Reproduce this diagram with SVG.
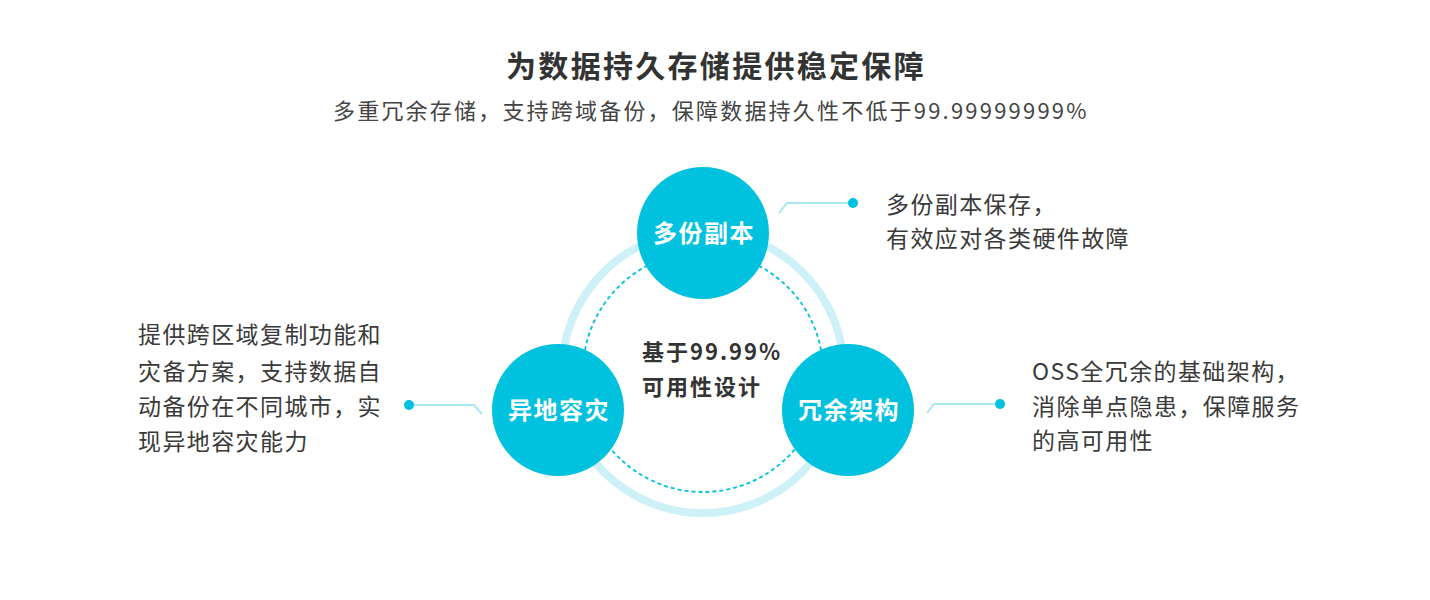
<svg xmlns="http://www.w3.org/2000/svg" width="1430" height="600" viewBox="0 0 1430 600">
<style>
text{font-family:"Noto Sans CJK SC","Noto Sans",sans-serif;}
.title{font-size:30px;font-weight:bold;fill:#333;letter-spacing:2.3px;}
.sub{font-size:22px;fill:#444;letter-spacing:2.2px;}
.desc{font-size:23px;fill:#3a3a3a;letter-spacing:1.4px;}
.node{fill:#00c1de;}
.ntext{font-size:24px;font-weight:bold;fill:#fff;letter-spacing:1.5px;text-anchor:middle;}
.ctext{font-size:22px;font-weight:bold;fill:#333;letter-spacing:2px;}
.conn{fill:none;stroke:#a6e7f1;stroke-width:2;}
.dot{fill:#00c1de;}
</style>
<rect width="1430" height="600" fill="#fff"/>
<text class="title" x="716" y="77" text-anchor="middle">为数据持久存储提供稳定保障</text>
<text class="sub" x="333" y="119">多重冗余存储，支持跨域备份，保障数据持久性不低于99.99999999%</text>
<g id="ring">
<circle cx="703" cy="372" r="141" fill="none" stroke="#cdf1f7" stroke-width="8"/>
<circle cx="703" cy="372" r="120" fill="none" stroke="#00c1de" stroke-width="1.8" stroke-dasharray="4 3"/>
</g>
<g id="connectors">
<polyline class="conn" points="779,213 787,203 853,203"/>
<circle class="dot" cx="853" cy="203" r="5"/>
<polyline class="conn" points="409,405 474,405 482,414"/>
<circle class="dot" cx="409" cy="405" r="5"/>
<polyline class="conn" points="927,413 934,404 1000,404"/>
<circle class="dot" cx="1000" cy="404" r="5"/>
</g>
<g id="center">
<text class="ctext" x="642" y="360">基于99.99%</text>
<text class="ctext" x="642" y="395">可用性设计</text>
</g>
<g id="node-top">
<circle class="node" cx="703" cy="233" r="66"/>
<text class="ntext" x="704" y="242">多份副本</text>
</g>
<g id="node-left">
<circle class="node" cx="558" cy="410" r="66"/>
<text class="ntext" x="559" y="419">异地容灾</text>
</g>
<g id="node-right">
<circle class="node" cx="848" cy="410" r="66"/>
<text class="ntext" x="849" y="419">冗余架构</text>
</g>
<g id="desc-top">
<text class="desc" x="886" y="213">多份副本保存，</text>
<text class="desc" x="886" y="247">有效应对各类硬件故障</text>
</g>
<g id="desc-left">
<text class="desc" x="138" y="343">提供跨区域复制功能和</text>
<text class="desc" x="138" y="380">灾备方案，支持数据自</text>
<text class="desc" x="138" y="415">动备份在不同城市，实</text>
<text class="desc" x="138" y="450">现异地容灾能力</text>
</g>
<g id="desc-right">
<text class="desc" x="1032" y="380">OSS全冗余的基础架构，</text>
<text class="desc" x="1032" y="415">消除单点隐患，保障服务</text>
<text class="desc" x="1032" y="449">的高可用性</text>
</g>
</svg>
